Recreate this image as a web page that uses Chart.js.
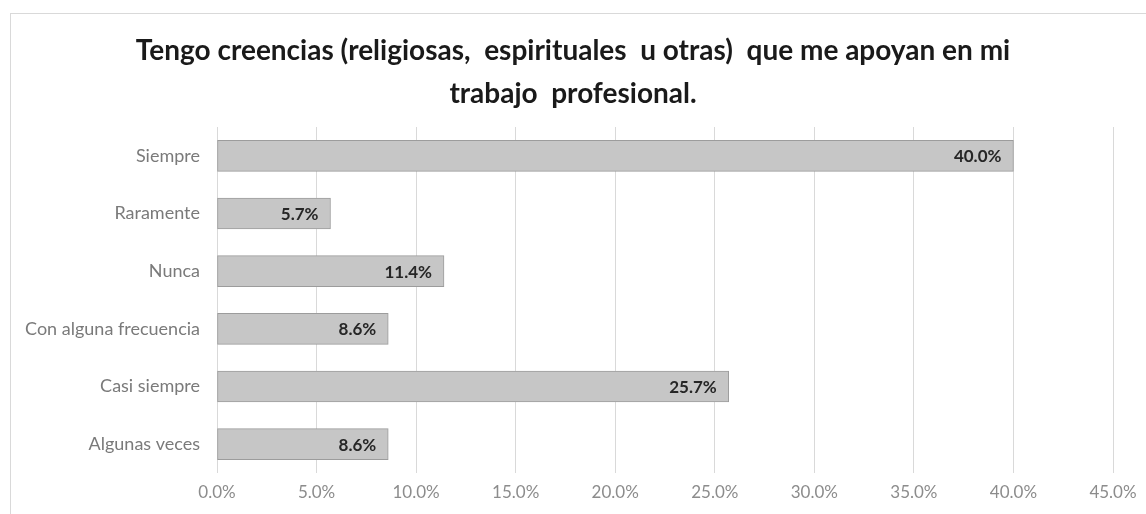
<!DOCTYPE html>
<html>
<head>
<meta charset="utf-8">
<script src="https://cdn.jsdelivr.net/npm/chart.js@4/dist/chart.umd.min.js"></script>
<style>
  html, body { margin: 0; padding: 0; background: #fff; overflow: hidden; }
  .frame { position: absolute; left: 10px; top: 13px; width: 1200px; height: 600px; border: 1px solid #d9d9d9; }
  #chart { position: absolute; left: 0; top: 0; }
</style>
</head>
<body>
<div class="frame"></div>
<canvas id="chart" width="1146" height="514"></canvas>
<script>
const titleLines = ['Tengo creencias (religiosas,  espirituales  u otras)  que me apoyan en mi', 'trabajo  profesional.'];
const categories = ['Siempre', 'Raramente', 'Nunca', 'Con alguna frecuencia', 'Casi siempre', 'Algunas veces'];
const percentages = [40.0, 5.7, 11.4, 8.6, 25.7, 8.6];
const axisMax = 45;
const axisStep = 5;

// value labels drawn at the inner end of each bar
const barValueLabels = {
  id: 'barValueLabels',
  afterDatasetsDraw(chart) {
    const ctx = chart.ctx;
    const meta = chart.getDatasetMeta(0);
    ctx.save();
    ctx.font = 'bold 17px Lato';
    ctx.fillStyle = '#262626';
    ctx.textAlign = 'right';
    ctx.textBaseline = 'middle';
    meta.data.forEach((bar, i) => {
      ctx.fillText(percentages[i].toFixed(1) + '%', bar.x - 12, bar.y + 1);
    });
    ctx.restore();
  }
};

new Chart(document.getElementById('chart'), {
  type: 'bar',
  data: {
    labels: categories,
    datasets: [{
      data: percentages,
      backgroundColor: '#c6c6c6',
      borderColor: '#9c9c9c',
      borderWidth: 1,
      borderSkipped: false,
      barThickness: 31
    }]
  },
  options: {
    indexAxis: 'y',
    responsive: false,
    animation: false,
    layout: { padding: 0 },
    plugins: {
      legend: { display: false },
      tooltip: { enabled: false },
      title: {
        display: true,
        text: titleLines,
        color: '#1a1a1a',
        font: { family: 'Lato', size: 28, weight: 'bold', lineHeight: '43px' },
        padding: { top: 29, bottom: 12 }
      }
    },
    scales: {
      x: {
        min: 0,
        max: axisMax,
        ticks: {
          stepSize: axisStep,
          color: '#8c8c8c',
          font: { family: 'Lato', size: 17 },
          padding: 9,
          maxRotation: 0,
          callback: v => v.toFixed(1) + '%'
        },
        grid: { color: '#d9d9d9', drawTicks: false },
        border: { display: false },
        // leave room on the right of the plot without narrowing the title box
        afterFit(scale) { scale.height = 41; scale.paddingRight = 33; }
      },
      y: {
        ticks: {
          color: '#7a7a7a',
          font: { family: 'Lato', size: 18 },
          padding: 17
        },
        grid: { display: false, drawTicks: false },
        border: { display: false },
        afterFit(scale) { scale.width = 217; }
      }
    }
  },
  plugins: [barValueLabels]
});
</script>
</body>
</html>
